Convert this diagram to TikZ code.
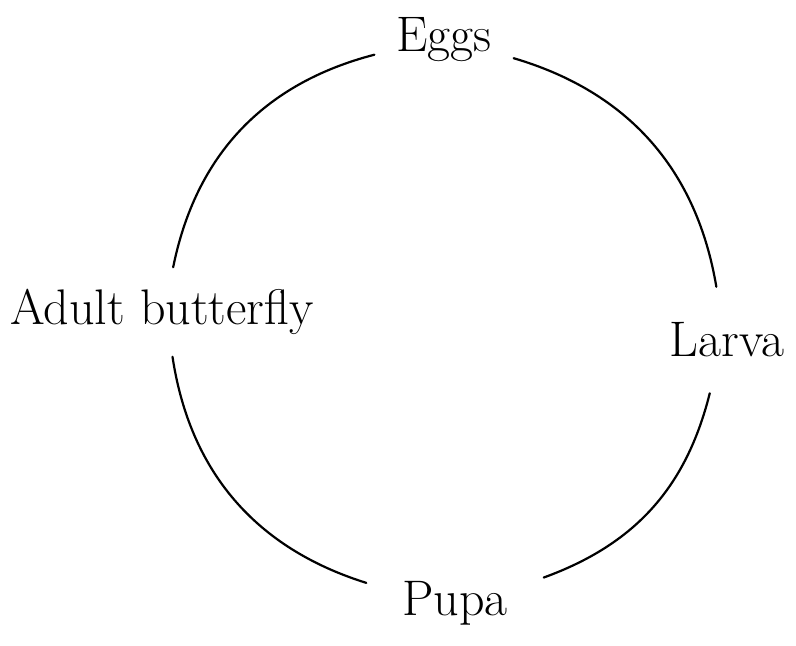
\documentclass[tikz,border=0pt]{standalone}
\usepackage{tikz}
\usetikzlibrary{positioning}

\begin{document}
\begin{tikzpicture}[x=0.5pt, y=-0.5pt,
    stage/.style={font=\fontsize{25}{30}\selectfont, inner sep=2pt, outer sep=9pt},
    arcline/.style={line width=1.1pt, line cap=round}]
      \useasboundingbox (0,0) rectangle (796,646);

      \node[stage] (eggs) at (444,40) {Eggs};
      \node[stage] (adult) at (162,312) {Adult butterfly};
      \node[stage, outer sep=16pt] (larva) at (727,340) {Larva};
      \node[stage, outer xsep=16pt, outer ysep=4pt] (pupa) at (455,603) {Pupa};

      \draw[arcline] (eggs) to[bend right=32] (adult);
      \draw[arcline] (adult) to[bend right=32] (pupa);
      \draw[arcline] (pupa) to[bend right=28] (larva);
      \draw[arcline] (larva) to[bend right=32] (eggs);
    \end{tikzpicture}
\end{document}
